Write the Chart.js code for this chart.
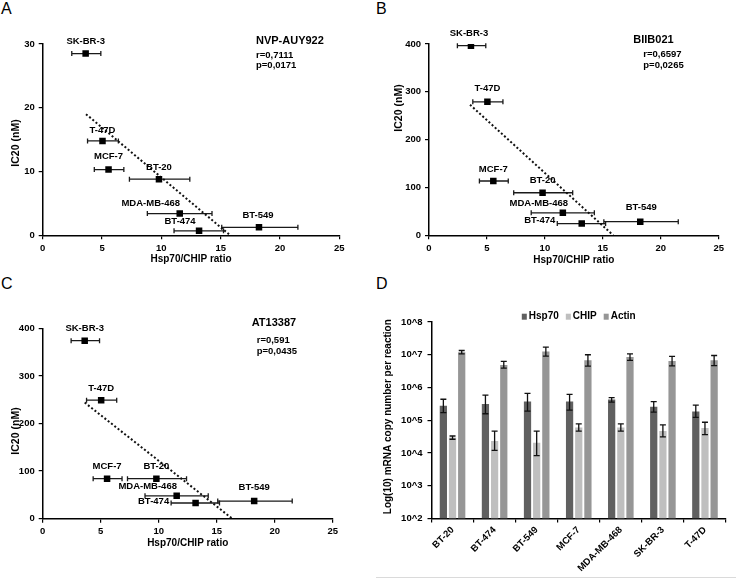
<!DOCTYPE html>
<html>
<head>
<meta charset="utf-8">
<script src="https://cdn.jsdelivr.net/npm/chart.js@4.4.1/dist/chart.umd.min.js"></script>
<style>
  body { margin: 0; background: #fff; width: 736px; height: 587px; position: relative; overflow: hidden;
         font-family: "Liberation Sans", Arial, sans-serif; }
  canvas { position: absolute; }
  .letter { position: absolute; font-size: 16px; line-height: 1; color: #000; }
  .rule { position: absolute; left: 376px; top: 577px; width: 360px; height: 1px; background: #dadada; }
</style>
</head>
<body>
<div class="letter" style="left:1px;top:1px">A</div>
<div class="letter" style="left:376px;top:1px">B</div>
<div class="letter" style="left:1px;top:276px">C</div>
<div class="letter" style="left:376px;top:276px">D</div>
<canvas id="chartA" width="368" height="290" style="left:0;top:0"></canvas>
<canvas id="chartB" width="368" height="290" style="left:368px;top:0"></canvas>
<canvas id="chartC" width="368" height="297" style="left:0;top:290px"></canvas>
<canvas id="chartD" width="368" height="297" style="left:368px;top:290px"></canvas>
<div class="rule"></div>
<script>
// panels A-C: IC20 vs Hsp70/CHIP ratio
const cellLines = ["SK-BR-3", "T-47D", "MCF-7", "BT-20", "MDA-MB-468", "BT-474", "BT-549"];
const ratioMean = [3.62, 5.04, 5.55, 9.8, 11.55, 13.18, 18.23];
const ratioLow  = [2.45, 3.78, 4.35, 7.31, 8.82, 11.07, 15.09];
const ratioHigh = [4.9, 6.38, 6.84, 12.4, 14.27, 15.24, 21.51];

const ic20Auy  = [28.5, 14.8, 10.3, 8.8, 3.4, 0.7, 1.25];
const ic20Biib = [396.5, 279, 113.5, 89, 47, 24.5, 28.5];
const ic20At   = [374, 249, 84, 84, 48, 33, 37];

const trendAuy  = [[3.65, 19], [15.8, 0]];
const trendBiib = [[3.54, 273], [15.9, 0]];
const trendAt   = [[3.62, 244], [16.35, 0]];

// panel D: mRNA copy numbers
const qpcrLines = ["BT-20", "BT-474", "BT-549", "MCF-7", "MDA-MB-468", "SK-BR-3", "T-47D"];
const hsp70     = [2.75e5, 3.16e5, 3.72e5, 3.72e5, 4.3e5, 2.57e5, 1.86e5];
const hsp70Low  = [1.70e5, 1.58e5, 1.91e5, 2.04e5, 3.6e5, 1.78e5, 1.23e5];
const hsp70High = [4.37e5, 5.89e5, 6.61e5, 6.17e5, 4.9e5, 3.72e5, 2.88e5];
const chip      = [2.95e4, 2.34e4, 2.04e4, 6.03e4, 6.03e4, 4.68e4, 5.75e4];
const chipLow   = [2.63e4, 1.2e4, 8.3e3, 4.68e4, 4.68e4, 3.09e4, 3.63e4];
const chipHigh  = [3.31e4, 4.68e4, 4.68e4, 7.76e4, 7.76e4, 7.24e4, 8.7e4];
const actin     = [1.2e7, 4.9e6, 1.26e7, 6.76e6, 8.5e6, 6.46e6, 6.76e6];
const actinLow  = [1.07e7, 3.9e6, 9.1e6, 4.47e6, 6.76e6, 4.57e6, 4.68e6];
const actinHigh = [1.35e7, 6.3e6, 1.7e7, 1.0e7, 1.07e7, 8.9e6, 9.5e6];
const logTicks  = [1e2, 1e3, 1e4, 1e5, 1e6, 1e7, 1e8];

const FAMILY = "'Liberation Sans', Arial, sans-serif";
Chart.defaults.font.family = FAMILY;
Chart.defaults.color = '#000';

const tickFont = { size: 9.5, weight: 'bold' };

// horizontal error bars behind the squares
const xErrorBars = {
  id: 'xErrorBars',
  beforeDatasetsDraw(chart) {
    const ds = chart.data.datasets[0];
    const xs = chart.scales.x, ys = chart.scales.y;
    const ctx = chart.ctx;
    ctx.save();
    ctx.strokeStyle = '#1a1a1a';
    ctx.lineWidth = 1.3;
    ds.data.forEach((p, i) => {
      const y = ys.getPixelForValue(p.y);
      const x1 = xs.getPixelForValue(ds.xLow[i]);
      const x2 = xs.getPixelForValue(ds.xHigh[i]);
      ctx.beginPath();
      ctx.moveTo(x1, y); ctx.lineTo(x2, y);
      ctx.moveTo(x1, y - 2.5); ctx.lineTo(x1, y + 2.5);
      ctx.moveTo(x2, y - 2.5); ctx.lineTo(x2, y + 2.5);
      ctx.stroke();
    });
    ctx.restore();
  }
};

// vertical error bars on top of the bars
const yErrorBars = {
  id: 'yErrorBars',
  afterDatasetsDraw(chart) {
    const ys = chart.scales.y;
    const ctx = chart.ctx;
    ctx.save();
    ctx.strokeStyle = '#111';
    ctx.lineWidth = 1.3;
    chart.data.datasets.forEach((ds, di) => {
      chart.getDatasetMeta(di).data.forEach((bar, i) => {
        const y1 = ys.getPixelForValue(ds.low[i]);
        const y2 = ys.getPixelForValue(ds.high[i]);
        ctx.beginPath();
        ctx.moveTo(bar.x, y1); ctx.lineTo(bar.x, y2);
        ctx.moveTo(bar.x - 3, y1); ctx.lineTo(bar.x + 3, y1);
        ctx.moveTo(bar.x - 3, y2); ctx.lineTo(bar.x + 3, y2);
        ctx.stroke();
      });
    });
    ctx.restore();
  }
};

// cell line names next to each point
const pointLabels = {
  id: 'pointLabels',
  afterDatasetsDraw(chart, args, opts) {
    const ctx = chart.ctx;
    const meta = chart.getDatasetMeta(0);
    ctx.save();
    ctx.font = 'bold 9.5px ' + FAMILY;
    ctx.fillStyle = '#000';
    ctx.textAlign = 'center';
    ctx.textBaseline = 'middle';
    meta.data.forEach((pt, i) => {
      const [dx, dy] = opts.offsets[i];
      ctx.fillText(opts.names[i], pt.x + dx, pt.y + dy);
    });
    ctx.restore();
  }
};

// free text: titles, statistics, axis titles
const notes = {
  id: 'notes',
  afterDraw(chart, args, opts) {
    const ctx = chart.ctx;
    opts.items.forEach(n => {
      ctx.save();
      ctx.font = 'bold ' + n.size + 'px ' + FAMILY;
      ctx.fillStyle = '#000';
      ctx.textBaseline = 'middle';
      ctx.textAlign = n.align || 'left';
      ctx.translate(n.x, n.y);
      if (n.rotate) ctx.rotate(n.rotate);
      ctx.fillText(n.text, 0, 0);
      ctx.restore();
    });
  }
};

// small legend just above the plot
const boxLegend = {
  id: 'boxLegend',
  afterDraw(chart, args, o) {
    const ctx = chart.ctx;
    ctx.save();
    ctx.font = 'bold ' + o.size + 'px ' + FAMILY;
    ctx.textBaseline = 'middle';
    const items = chart.data.datasets.map(d => ({ text: d.label, color: d.backgroundColor, w: ctx.measureText(d.label).width }));
    const total = items.reduce((s, it) => s + o.box + o.gap + it.w, 0) + o.space * (items.length - 1);
    let x = (chart.chartArea.left + chart.chartArea.right) / 2 - total / 2;
    items.forEach(it => {
      ctx.fillStyle = it.color;
      ctx.fillRect(x, o.y - 3, o.box, 6);
      x += o.box + o.gap;
      ctx.fillStyle = '#000';
      ctx.fillText(it.text, x, o.y);
      x += it.w + o.space;
    });
    ctx.restore();
  }
};

function axisStyle() {
  return {
    grid: { drawOnChartArea: false, tickLength: 4, color: '#000', lineWidth: 1.2 },
    border: { color: '#000', width: 1.5 }
  };
}

function ratioPanel(id, ic20, trend, yMax, yStep, box, offsets, texts) {
  return new Chart(document.getElementById(id), {
    type: 'scatter',
    data: {
      datasets: [{
        data: ratioMean.map((x, i) => ({ x: x, y: ic20[i] })),
        xLow: ratioLow,
        xHigh: ratioHigh,
        pointStyle: 'rect',
        pointRadius: 4.6,
        backgroundColor: '#000',
        borderWidth: 0
      }, {
        type: 'line',
        data: trend.map(p => ({ x: p[0], y: p[1] })),
        borderColor: '#111',
        borderWidth: 2,
        borderDash: [2, 2.2],
        pointRadius: 0,
        fill: false
      }]
    },
    options: {
      responsive: false,
      animation: false,
      layout: { padding: { top: box.top, right: box.right, left: 0, bottom: 0 } },
      plugins: {
        legend: { display: false },
        tooltip: { enabled: false },
        pointLabels: { names: cellLines, offsets: offsets },
        notes: { items: texts }
      },
      scales: {
        x: Object.assign(axisStyle(), {
          type: 'linear', min: 0, max: 25,
          ticks: { stepSize: 5, font: tickFont, color: '#000', padding: 3 },
          afterFit(s) { s.height = box.xh; }
        }),
        y: Object.assign(axisStyle(), {
          min: 0, max: yMax,
          ticks: { stepSize: yStep, font: tickFont, color: '#000', padding: 4 },
          afterFit(s) { s.width = box.left; }
        })
      }
    },
    plugins: [xErrorBars, pointLabels, notes]
  });
}

const R90 = -Math.PI / 2;

ratioPanel('chartA', ic20Auy, trendAuy, 30, 10,
  { top: 44, right: 28.7, left: 42.7, xh: 54.7 },
  [[0, -12], [0, -11], [0, -13], [0, -12], [-29, -10], [-19, -9], [-1, -12]],
  [
    { text: 'NVP-AUY922', x: 256, y: 40.7, size: 11 },
    { text: 'r=0,7111', x: 256, y: 55, size: 9.5 },
    { text: 'p=0,0171', x: 256, y: 65.7, size: 9.5 },
    { text: 'IC20 (nM)', x: 16, y: 143, size: 10.5, align: 'center', rotate: R90 },
    { text: 'Hsp70/CHIP ratio', x: 191, y: 259.3, size: 10, align: 'center' }
  ]);

ratioPanel('chartB', ic20Biib, trendBiib, 400, 100,
  { top: 44, right: 17.3, left: 61, xh: 54.7 },
  [[-2, -12], [0, -13], [0, -12], [0, -12], [-24, -9], [-42, -3], [1, -14]],
  [
    { text: 'BIIB021', x: 265.3, y: 40, size: 11 },
    { text: 'r=0,6597', x: 275.3, y: 54.3, size: 9.5 },
    { text: 'p=0,0265', x: 275.3, y: 65.7, size: 9.5 },
    { text: 'IC20 (nM)', x: 31, y: 108, size: 10.5, align: 'center', rotate: R90 },
    { text: 'Hsp70/CHIP ratio', x: 205.8, y: 260, size: 10, align: 'center' }
  ]);

ratioPanel('chartC', ic20At, trendAt, 400, 100,
  { top: 38.3, right: 35.3, left: 42.7, xh: 68.3 },
  [[0, -12], [0, -12], [0, -12], [0, -12], [-29, -9], [-42, -2], [0, -14]],
  [
    { text: 'AT13387', x: 251.7, y: 33.3, size: 11 },
    { text: 'r=0,591', x: 256.7, y: 50, size: 9.5 },
    { text: 'p=0,0435', x: 256.7, y: 61, size: 9.5 },
    { text: 'IC20 (nM)', x: 16, y: 141, size: 10.5, align: 'center', rotate: R90 },
    { text: 'Hsp70/CHIP ratio', x: 187.7, y: 253.3, size: 10, align: 'center' }
  ]);

new Chart(document.getElementById('chartD'), {
  type: 'bar',
  data: {
    labels: qpcrLines,
    datasets: [
      { label: 'Hsp70', data: hsp70, low: hsp70Low, high: hsp70High, backgroundColor: '#606060' },
      { label: 'CHIP', data: chip, low: chipLow, high: chipHigh, backgroundColor: '#bfbfbf' },
      { label: 'Actin', data: actin, low: actinLow, high: actinHigh, backgroundColor: '#969696' }
    ]
  },
  options: {
    responsive: false,
    animation: false,
    layout: { padding: { top: 32, right: 10, left: 0, bottom: 0 } },
    datasets: { bar: { categoryPercentage: 0.654, barPercentage: 0.79 } },
    plugins: {
      legend: { display: false },
      tooltip: { enabled: false },
      boxLegend: { y: 26.7, size: 10, box: 5, gap: 2, space: 7 },
      notes: { items: [
        { text: 'Log(10) mRNA copy number per reaction', x: 20.5, y: 126.7, size: 10, align: 'center', rotate: R90 }
      ] }
    },
    scales: {
      x: {
        grid: { drawOnChartArea: false, offset: true, tickLength: 4, color: '#000', lineWidth: 1.2 },
        border: { color: '#000', width: 1.5 },
        ticks: { font: tickFont, color: '#000', maxRotation: 45, minRotation: 45, autoSkip: false, padding: 2 },
        afterFit(s) { s.height = 68.5; }
      },
      y: Object.assign(axisStyle(), {
        type: 'logarithmic', min: 1e2, max: 1e8,
        afterBuildTicks(s) { s.ticks = logTicks.map(v => ({ value: v })); },
        ticks: { font: tickFont, color: '#000', padding: 5,
                 callback: v => '10^' + Math.round(Math.log10(v)) },
        afterFit(s) { s.width = 63.5; }
      })
    }
  },
  plugins: [yErrorBars, boxLegend, notes]
});
</script>
</body>
</html>
